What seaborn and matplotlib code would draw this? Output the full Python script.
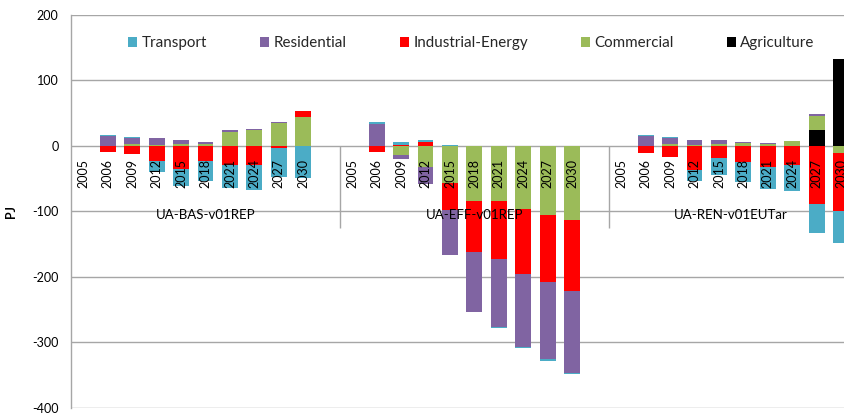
import numpy as np
import pandas as pd
import matplotlib
matplotlib.use("Agg")
import matplotlib.pyplot as plt
from matplotlib.patches import Patch
import seaborn as sns

# ---- data (PJ, change against the 2005 reference) ----
years = ["2005", "2006", "2009", "2012", "2015", "2018", "2021", "2024", "2027", "2030"]
scenarios = ["UA-BAS-v01REP", "UA-EFF-v01REP", "UA-REN-v01EUTar"]
sectors = ["Transport", "Residential", "Industrial-Energy", "Commercial", "Agriculture"]
colors = ["#4BACC6", "#8064A2", "#FF0000", "#9BBB59", "#000000"]

# one value per year, scenarios concatenated: BAS | EFF | REN
transport = [0, 1, 1.5, -17, -25.6, -30.4, -34.6, -38.2, -43.8, -49.4,
             0, 3, 4.5, 2.5, 1, 0, -1, -1.5, -2.5, -1.5,
             0, 1, 1, -16.8, -25, -31, -34.6, -39.7, -43.8, -48]
residential = [0, 16, 9, 10, 6, 3.5, 2.5, 1.5, 2, 0,
               0, 33.6, -5, -26.5, -68.7, -90.6, -104, -111.5, -117, -125,
               0, 16, 9.7, 7, 6, 2.5, 1.5, 0, 2.5, 0]
industrial = [0, -9.5, -12, -23, -35, -23, -29, -29, -3, 9,
              0, -9.7, 1, 6.6, -40.7, -78.3, -89, -99.7, -103, -107.4,
              0, -11, -17.3, -36.6, -18.8, -24, -31.5, -29, -88.5, -89]
commercial = [0, 0, 3, 2, 3, 3, 22, 25, 34.5, 44,
              0, 0, -14.2, -31.5, -57, -84, -84, -95.7, -105, -113.5,
              0, 0, 3, 2, 3, 4, 3, 8, 21.5, -11]
agriculture = [0, 0, 0, 0, 0, 0, 0, 0, 0, 0,
               0, 0, 0, 0, 0, 0, 0, 0, 0, 0,
               0, 0, 0, 0, 0, 0, 0, 0, 25, 132.5]

yticks = [200, 100, 0, -100, -200, -300, -400]

# ---- long table ----
series = dict(zip(sectors, [transport, residential, industrial, commercial, agriculture]))
slots = len(years) + 1  # one empty slot closes each scenario block
rows = []
for g, scen in enumerate(scenarios):
    for i, yr in enumerate(years):
        for s in sectors:
            rows.append(dict(scenario=scen, year=yr, pos=g * slots + i, sector=s,
                             value=series[s][g * len(years) + i]))
df = pd.DataFrame(rows).sort_values(["pos"]).reset_index(drop=True)

sns.set_theme(style="white")
plt.rcParams["font.family"] = ["Lato", "DejaVu Sans"]

fig = plt.figure(figsize=(8.44, 4.16), dpi=100)
ax = fig.add_axes([71 / 844, 8 / 416, (853 - 71) / 844, 393 / 416])

grid_c = "#A6A6A6"
ax.set_axisbelow(True)
ax.yaxis.grid(True, color=grid_c, lw=1)

# stacking order away from zero, positives and negatives separately
stack_order = ["Agriculture", "Commercial", "Industrial-Energy", "Residential", "Transport"]
color_of = dict(zip(sectors, colors))
positions = sorted(df["pos"].unique())
pos_base = np.zeros(len(positions))
neg_base = np.zeros(len(positions))
for s in stack_order:
    sub = df[df["sector"] == s].sort_values("pos")
    v = sub["value"].to_numpy()
    up = np.where(v > 0, v, 0.0)
    dn = np.where(v < 0, v, 0.0)
    for h, base in ((up, pos_base), (dn, neg_base)):
        part = pd.DataFrame({"pos": sub["pos"].to_numpy(), "h": h})
        sns.barplot(data=part, x="pos", y="h", native_scale=True, width=0.65,
                    color=color_of[s], saturation=1, errorbar=None,
                    bottom=base.copy(), linewidth=0, ax=ax, zorder=2)
    pos_base += up
    neg_base += dn

ax.set_ylim(-400, 200)
ax.set_xlim(-0.5, (853 - 71) / 24.45 - 0.5)
ax.set_yticks(yticks)
ax.set_yticklabels([str(t) for t in yticks])
ax.set_xticks([])
ax.set_xlabel("")
ax.tick_params(axis="y", length=0, pad=9, labelsize=9, labelcolor="#000000")

for side in ["right", "top", "bottom"]:
    ax.spines[side].set_visible(False)
ax.spines["left"].set_color(grid_c)
ax.spines["left"].set_linewidth(1)

ax.set_ylabel("PJ", fontsize=9, fontweight="bold", color="#000000")
ax.yaxis.set_label_coords((17 - 71) / (853 - 71), 0.5)

# year labels on the category axis
for g in range(len(scenarios)):
    for i, yr in enumerate(years):
        ax.text(g * slots + i, -20, yr, rotation=90, ha="center", va="top",
                fontsize=9, color="#000000", zorder=5)

# scenario labels and block separators
xmax = ax.get_xlim()[1]
for g, scen in enumerate(scenarios):
    lo = g * slots - 0.5
    hi = min(lo + slots, xmax)
    ax.text((lo + hi) / 2, -105, scen, ha="center", va="center",
            fontsize=9.5, color="#000000", zorder=5)
ax.vlines([slots - 0.5, 2 * slots - 0.5], -125, 0, colors=grid_c, lw=1, zorder=1)

handles = [Patch(facecolor=c, edgecolor="none") for c in colors]
fig.legend(handles, sectors, loc="center left", bbox_to_anchor=(128 / 844, 1 - 43 / 416),
           ncol=5, frameon=False, borderpad=0, borderaxespad=0,
           handlelength=0.62, handleheight=0.62, handletextpad=0.28,
           columnspacing=3.5, fontsize=10.9)

fig.savefig("out.png", dpi=100)
